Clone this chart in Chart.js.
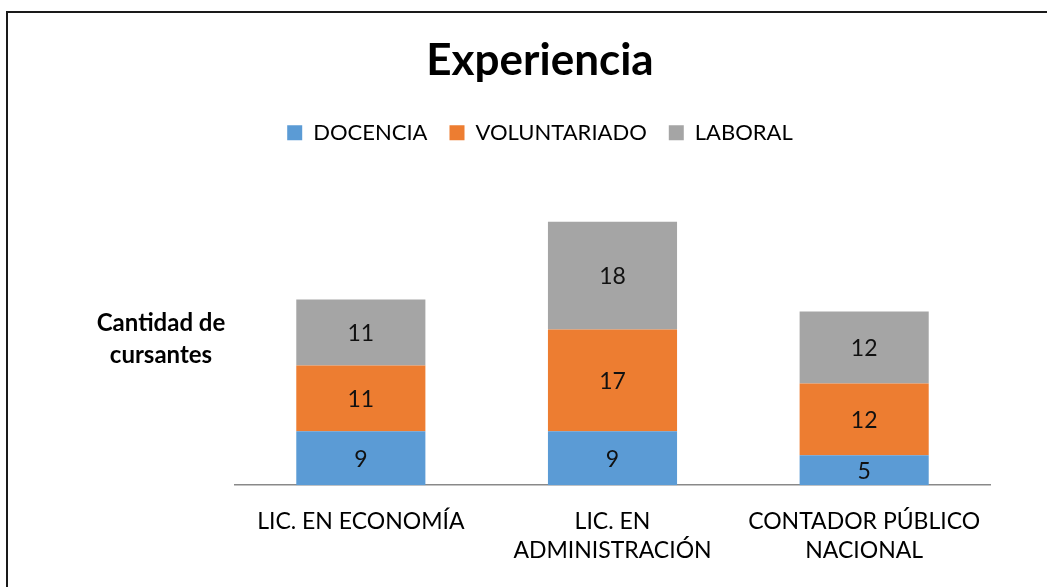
<!DOCTYPE html>
<html>
<head>
<meta charset="utf-8">
<script src="https://cdn.jsdelivr.net/npm/chart.js@4/dist/chart.umd.min.js"></script>
<style>
  html, body { margin: 0; padding: 0; background: #fff; overflow: hidden; }
  #frame { position: absolute; left: 6px; top: 11px; width: 2000px; height: 2000px; border: 2px solid #1a1a1a; box-sizing: border-box; }
  #chartCanvas { position: absolute; left: 0; top: 0; }
</style>
</head>
<body>
<div id="frame"></div>
<canvas id="chartCanvas" width="1047" height="587"></canvas>
<script>
// --- data ---
const categories = [["LIC. EN ECONOMÍA"], ["LIC. EN", "ADMINISTRACIÓN"], ["CONTADOR PÚBLICO", "NACIONAL"]];
const docencia = [9, 9, 5];
const voluntariado = [11, 17, 12];
const laboral = [11, 18, 12];
const yTitleLines = ["Cantidad de", "cursantes"];

const FONT = "Lato, 'Open Sans', sans-serif";

// values in the middle of each segment
const segmentLabels = {
  id: "segmentLabels",
  afterDatasetsDraw(chart) {
    const ctx = chart.ctx;
    ctx.save();
    ctx.font = "23px " + FONT;
    ctx.fillStyle = "#111";
    ctx.textAlign = "center";
    ctx.textBaseline = "middle";
    chart.data.datasets.forEach((ds, i) => {
      chart.getDatasetMeta(i).data.forEach((bar, j) => {
        const mid = (bar.y + bar.base) / 2;
        ctx.fillText(ds.data[j], bar.x, mid + 1);
      });
    });
    ctx.restore();
  }
};

// horizontal y-axis title, left of the plot
const sideTitle = {
  id: "sideTitle",
  afterDraw(chart) {
    const { ctx, chartArea } = chart;
    const cx = chartArea.left - 74;
    const cy = (chartArea.top + chartArea.bottom) / 2 + 4;
    ctx.save();
    ctx.font = "bold 24px " + FONT;
    ctx.fillStyle = "#000";
    ctx.textAlign = "center";
    ctx.textBaseline = "middle";
    ctx.fillText(yTitleLines[0], cx, cy - 16);
    ctx.fillText(yTitleLines[1], cx, cy + 16);
    ctx.restore();
  }
};

// extra room under the legend
const legendGap = {
  id: "legendGap",
  beforeInit(chart) {
    const fit = chart.legend.fit;
    chart.legend.fit = function () {
      fit.bind(chart.legend)();
      this.height += 32;
    };
  }
};

new Chart(document.getElementById("chartCanvas"), {
  type: "bar",
  data: {
    labels: categories,
    datasets: [
      { label: "DOCENCIA", data: docencia, backgroundColor: "#5B9BD5" },
      { label: "VOLUNTARIADO", data: voluntariado, backgroundColor: "#ED7D31" },
      { label: "LABORAL", data: laboral, backgroundColor: "#A5A5A5" }
    ]
  },
  options: {
    responsive: false,
    animation: false,
    categoryPercentage: 1,
    barPercentage: 0.513,
    layout: { padding: { left: 90, right: 57, top: 0, bottom: 0 } },
    plugins: {
      title: {
        display: true,
        text: "Experiencia",
        color: "#000",
        font: { family: FONT, size: 44, weight: "bold" },
        padding: { top: 34, bottom: 13 }
      },
      legend: {
        display: true,
        labels: {
          color: "#000",
          font: { family: FONT, size: 22 },
          boxWidth: 15,
          boxHeight: 15,
          padding: 22
        }
      },
      tooltip: { enabled: false }
    },
    scales: {
      x: {
        stacked: true,
        grid: { display: false, drawTicks: false },
        border: { display: true, color: "#898989", width: 1.5 },
        ticks: { color: "#000", font: { family: FONT, size: 23, lineHeight: 1.3 }, padding: 21, maxRotation: 0 }
      },
      y: {
        stacked: true,
        min: 0,
        max: 50,
        grid: { display: false, drawTicks: false },
        border: { display: false },
        ticks: { display: false },
        afterFit(scale) { scale.width = 145; }
      }
    }
  },
  plugins: [segmentLabels, sideTitle, legendGap]
});
</script>
</body>
</html>
